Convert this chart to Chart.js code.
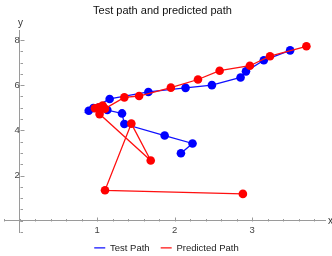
<!DOCTYPE html>
<html>
<head>
<meta charset="utf-8">
<script src="https://cdn.jsdelivr.net/npm/chart.js@4/dist/chart.umd.min.js"></script>
<style>
  html, body { margin: 0; padding: 0; background: #fff; }
  #wrap { width: 332px; height: 256px; }
</style>
</head>
<body>
<div id="wrap"><canvas id="c"></canvas></div>
<script>
// test path (blue)
const testX = [2.08, 2.23, 1.87, 1.35, 1.32, 1.13, 1.01, 0.89, 0.95, 1.16, 1.66, 2.14, 2.48, 2.85, 2.92, 3.15, 3.49];
const testY = [2.99, 3.42, 3.77, 4.28, 4.75, 4.90, 5.00, 4.87, 4.99, 5.39, 5.70, 5.88, 6.00, 6.34, 6.61, 7.10, 7.54];

// predicted path (red)
const predX = [2.88, 1.10, 1.44, 1.69, 1.03, 0.97, 1.02, 1.07, 1.10, 1.35, 1.54, 1.95, 2.30, 2.58, 2.97, 3.23, 3.70];
const predY = [1.19, 1.35, 4.30, 2.67, 4.72, 4.98, 5.02, 5.10, 4.96, 5.46, 5.52, 5.89, 6.25, 6.64, 6.86, 7.28, 7.72];

const seriesNames = ['Test Path', 'Predicted Path'];
const xTickLabels = [1, 2, 3];
const yTickLabels = [2, 4, 6, 8];

const toPoints = (xs, ys) => xs.map((x, i) => ({ x, y: ys[i] }));
const near = (v, list) => list.find(l => Math.abs(v - l) < 1e-6);

const FONT = '"Liberation Sans", Arial, sans-serif';

// Mathematica-style inward ticks plus the axis names
const axisDecor = {
  id: 'axisDecor',
  afterLayout(chart) {
    // legend sits a little right of centre in the original
    if (chart.legend) chart.legend.left += 8;
  },
  afterDraw(chart) {
    const { ctx, scales: { x, y } } = chart;
    const x0 = Math.round(x.getPixelForValue(0)) + 0.5;
    const y0 = Math.round(y.getPixelForValue(0)) + 0.5;
    ctx.save();
    ctx.strokeStyle = '#9a9a9a';
    ctx.lineWidth = 1;
    x.ticks.forEach(t => {
      const px = Math.round(x.getPixelForValue(t.value)) + 0.5;
      const len = near(t.value, xTickLabels) !== undefined ? 4 : 2.5;
      ctx.beginPath();
      ctx.moveTo(px, y0);
      ctx.lineTo(px, y0 - len);
      ctx.stroke();
    });
    y.ticks.forEach(t => {
      const py = Math.round(y.getPixelForValue(t.value)) + 0.5;
      const len = near(t.value, yTickLabels) !== undefined ? 4 : 2.5;
      ctx.beginPath();
      ctx.moveTo(x0, py);
      ctx.lineTo(x0 + len, py);
      ctx.stroke();
    });
    ctx.fillStyle = '#333';
    ctx.font = '10px ' + FONT;
    ctx.textBaseline = 'middle';
    ctx.textAlign = 'left';
    ctx.fillText('x', x.right + 3, y0);
    ctx.textAlign = 'center';
    ctx.textBaseline = 'bottom';
    ctx.fillText('y', x0, y.top - 2);
    ctx.restore();
  }
};

new Chart(document.getElementById('c'), {
  type: 'line',
  data: {
    datasets: [
      {
        label: seriesNames[0],
        data: toPoints(testX, testY),
        borderColor: '#1010ff',
        backgroundColor: '#0000ff',
        borderWidth: 1.3,
        pointRadius: 4.3,
        pointBorderWidth: 0,
        pointBackgroundColor: '#0000ff',
        order: 1
      },
      {
        label: seriesNames[1],
        data: toPoints(predX, predY),
        borderColor: '#ff1010',
        backgroundColor: '#ff0000',
        borderWidth: 1.3,
        pointRadius: 4.3,
        pointBorderWidth: 0,
        pointBackgroundColor: '#ff0000',
        order: 0
      }
    ]
  },
  options: {
    responsive: true,
    maintainAspectRatio: false,
    animation: false,
    devicePixelRatio: 1,
    layout: { padding: { left: 0, right: 7, top: 2, bottom: -6.7 } },
    scales: {
      x: {
        type: 'linear',
        min: -0.2,
        max: 3.94,
        position: { y: 0 },
        afterFit: s => { s.paddingLeft = 0; s.paddingRight = 0; },
        grid: { display: false, drawTicks: false },
        border: { display: true, color: '#9a9a9a', width: 1 },
        ticks: {
          stepSize: 0.2,
          includeBounds: false,
          autoSkip: false,
          maxRotation: 0,
          padding: 4,
          color: '#444',
          font: { family: FONT, size: 9.5 },
          callback: v => { const l = near(v, xTickLabels); return l !== undefined ? String(l) : ''; }
        }
      },
      y: {
        type: 'linear',
        min: -0.5,
        max: 8.44,
        position: { x: 0 },
        grid: { display: false, drawTicks: false },
        border: { display: true, color: '#9a9a9a', width: 1 },
        ticks: {
          stepSize: 0.5,
          includeBounds: false,
          autoSkip: false,
          padding: 3,
          color: '#444',
          font: { family: FONT, size: 9.5 },
          callback: v => { const l = near(v, yTickLabels); return l !== undefined ? String(l) : ''; }
        }
      }
    },
    plugins: {
      title: {
        display: true,
        text: 'Test path and predicted path',
        color: '#111',
        font: { family: FONT, size: 11, weight: 'normal' },
        padding: { top: 2, bottom: 12.8 }
      },
      legend: {
        position: 'bottom',
        labels: {
          usePointStyle: true,
          pointStyle: 'line',
          pointStyleWidth: 11,
          color: '#222',
          font: { family: FONT, size: 9.5 },
          padding: 11.1,
          sort: (a, b) => a.datasetIndex - b.datasetIndex,
          generateLabels: chart => Chart.defaults.plugins.legend.labels.generateLabels(chart)
            .map(l => Object.assign(l, { lineWidth: 1.3 }))
        }
      },
      tooltip: { enabled: false }
    }
  },
  plugins: [axisDecor]
});
</script>
</body>
</html>
